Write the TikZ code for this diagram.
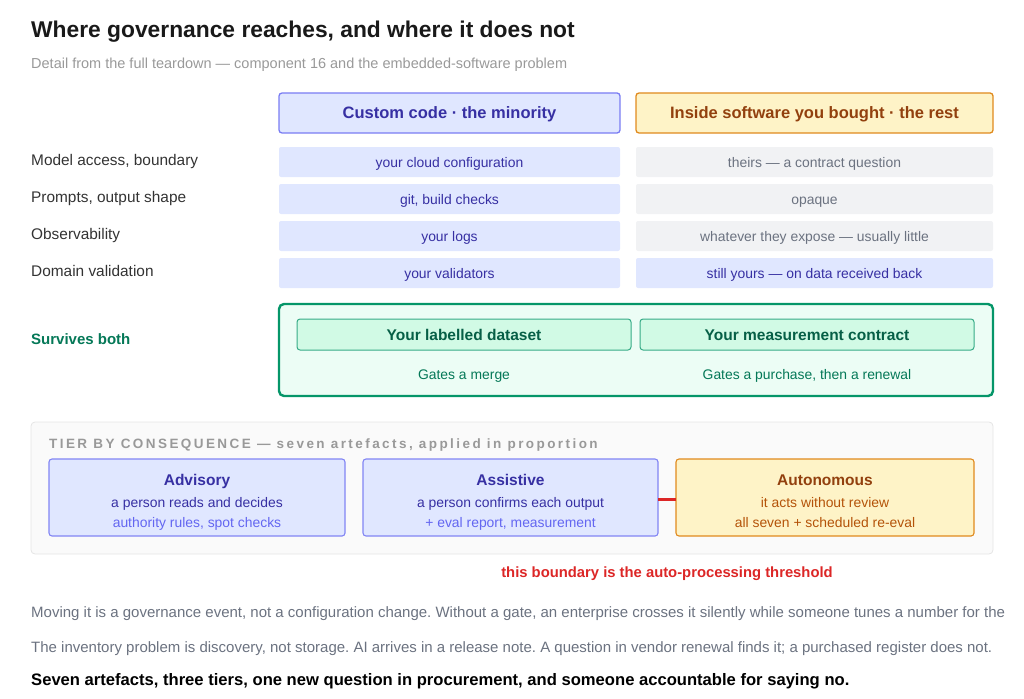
\documentclass[tikz,border=0pt]{standalone}
\usepackage{fontspec}
\setmainfont{Liberation Sans}
\begin{document}
\frenchspacing
\definecolor{ind}{HTML}{3730A3}
\definecolor{indb}{HTML}{6366F1}
\definecolor{indf}{HTML}{E0E7FF}
\definecolor{orf}{HTML}{FEF3C7}
\definecolor{orb}{HTML}{E08A1E}
\definecolor{ort}{HTML}{92400E}
\definecolor{ort2}{HTML}{B45309}
\definecolor{grf}{HTML}{F1F2F4}
\definecolor{grt}{HTML}{6B7280}
\definecolor{gnb}{HTML}{059669}
\definecolor{gnf}{HTML}{ECFDF5}
\definecolor{gnf2}{HTML}{D1FAE5}
\definecolor{gnt}{HTML}{065F46}
\definecolor{gnt2}{HTML}{047857}
\definecolor{red}{HTML}{DC2626}
\begin{tikzpicture}[x=1pt,y=-1pt,
  every node/.style={inner sep=0pt, text height=0.72em, text depth=0.2em, yshift=-2.5pt},
  cell/.style={font=\fontsize{13.9}{16}\selectfont},
  rowlab/.style={anchor=west, text=black!80, font=\fontsize{15.4}{18}\selectfont},
  hdr/.style={draw, line width=1.3pt, rounded corners=3pt},
  tier/.style={draw, line width=1.1pt, rounded corners=3pt},
  para/.style={anchor=west, text=grt, font=\fontsize{15}{18}\selectfont}]
\useasboundingbox (0,0) rectangle (1024,698);
\node[anchor=west, font=\fontsize{22.8}{27}\selectfont\bfseries, text=black!90] (title) at (31,32) {Where governance reaches, and where it does not};
\node[anchor=west, text=black!40, font=\fontsize{14.5}{17}\selectfont] (sub) at (31,63) {Detail from the full teardown — component 16 and the embedded-software problem};
% headers
\path[hdr, draw=indb!85, fill=indf] (279,93) rectangle (620,133);
\node[text=ind, font=\fontsize{16.5}{19}\selectfont\bfseries] (h1) at (449.5,113) {Custom code · the minority};
\path[hdr, draw=orb, fill=orf] (636,93) rectangle (993,133);
\node[text=ort, font=\fontsize{16.5}{19}\selectfont\bfseries] (h2) at (814.5,113) {Inside software you bought · the rest};
% rows
\foreach \y/\lab/\l/\r/\rc in {147/Model access{,} boundary/your cloud configuration/theirs — a contract question/g,
  184/Prompts{,} output shape/git{,} build checks/opaque/g,
  221/Observability/your logs/whatever they expose — usually little/g,
  258/Domain validation/your validators/still yours — on data received back/b}{
  \node[rowlab] at (31,\y+13) {\lab};
  \fill[indf, rounded corners=2pt] (279,\y) rectangle (620,\y+30);
  \node[cell, text=ind] at (449.5,\y+15.5) {\l};
  \if\rc g
    \fill[grf, rounded corners=2pt] (636,\y) rectangle (993,\y+30);
    \node[cell, text=grt] at (814.5,\y+15.5) {\r};
  \else
    \fill[indf, rounded corners=2pt] (636,\y) rectangle (993,\y+30);
    \node[cell, text=ind] at (814.5,\y+15.5) {\r};
  \fi
}
% survives both
\node[anchor=west, text=gnt2, font=\fontsize{15}{18}\selectfont\bfseries] (sb) at (31,339) {Survives both};
\draw[gnb, fill=gnf, line width=2.4pt, rounded corners=5pt] (279,304) rectangle (993,396);
\draw[gnb!80, fill=gnf2, line width=1pt, rounded corners=3pt] (297,319) rectangle (631,350);
\draw[gnb!80, fill=gnf2, line width=1pt, rounded corners=3pt] (640,319) rectangle (974,350);
\node[text=gnt, font=\fontsize{15.5}{18}\selectfont\bfseries] (d1) at (464,335) {Your labelled dataset};
\node[text=gnt, font=\fontsize{15.5}{18}\selectfont\bfseries] (d2) at (807,335) {Your measurement contract};
\node[cell, text=gnt2] (g1) at (464,374) {Gates a merge};
\node[cell, text=gnt2] (g2) at (807,374) {Gates a purchase, then a renewal};
% tier panel
\draw[black!10, fill=black!2, line width=0.8pt, rounded corners=4pt] (31,422) rectangle (993,554);
\node[anchor=west, text=black!40, font=\fontsize{13.5}{16}\selectfont\bfseries\addfontfeature{LetterSpace=18}] (tt) at (49,443) {TIER BY CONSEQUENCE — seven artefacts, applied in proportion};
\draw[tier, draw=indb!80, fill=indf] (49,459) rectangle (345,536);
\draw[tier, draw=indb!80, fill=indf] (363,459) rectangle (658,536);
\draw[tier, draw=orb, fill=orf] (676,459) rectangle (974,536);
\coordinate (asR) at (658,497);
\coordinate (auL) at (676,497);
\draw[red, line width=3pt] (asR) -- (auL);
\foreach \x/\a/\b/\c/\ca/\cb/\cc in {197/Advisory/a person reads and decides/authority rules{,} spot checks/ind/ind/indb,
  510.5/Assistive/a person confirms each output/+ eval report{,} measurement/ind/ind/indb,
  825/Autonomous/it acts without review/all seven + scheduled re-eval/ort/ort2/ort2}{
  \node[text=\ca, font=\fontsize{15.5}{18}\selectfont\bfseries] at (\x,480) {\a};
  \node[cell, text=\cb] at (\x,502) {\b};
  \node[cell, text=\cc] at (\x,522) {\c};
}
\node[text=red, font=\fontsize{14.8}{17}\selectfont\bfseries] (thr) at (667,572) {this boundary is the auto-processing threshold};
\node[para] (p1) at (31,612) {Moving it is a governance event, not a configuration change. Without a gate, an enterprise crosses it silently while someone tunes a number for the};
\node[para] (p2) at (31,647) {The inventory problem is discovery, not storage. AI arrives in a release note. A question in vendor renewal finds it; a purchased register does not.};
\node[anchor=west, text=black, font=\fontsize{16.6}{19}\selectfont\bfseries] (p3) at (31,680) {Seven artefacts, three tiers, one new question in procurement, and someone accountable for saying no.};
\end{tikzpicture}
\end{document}
